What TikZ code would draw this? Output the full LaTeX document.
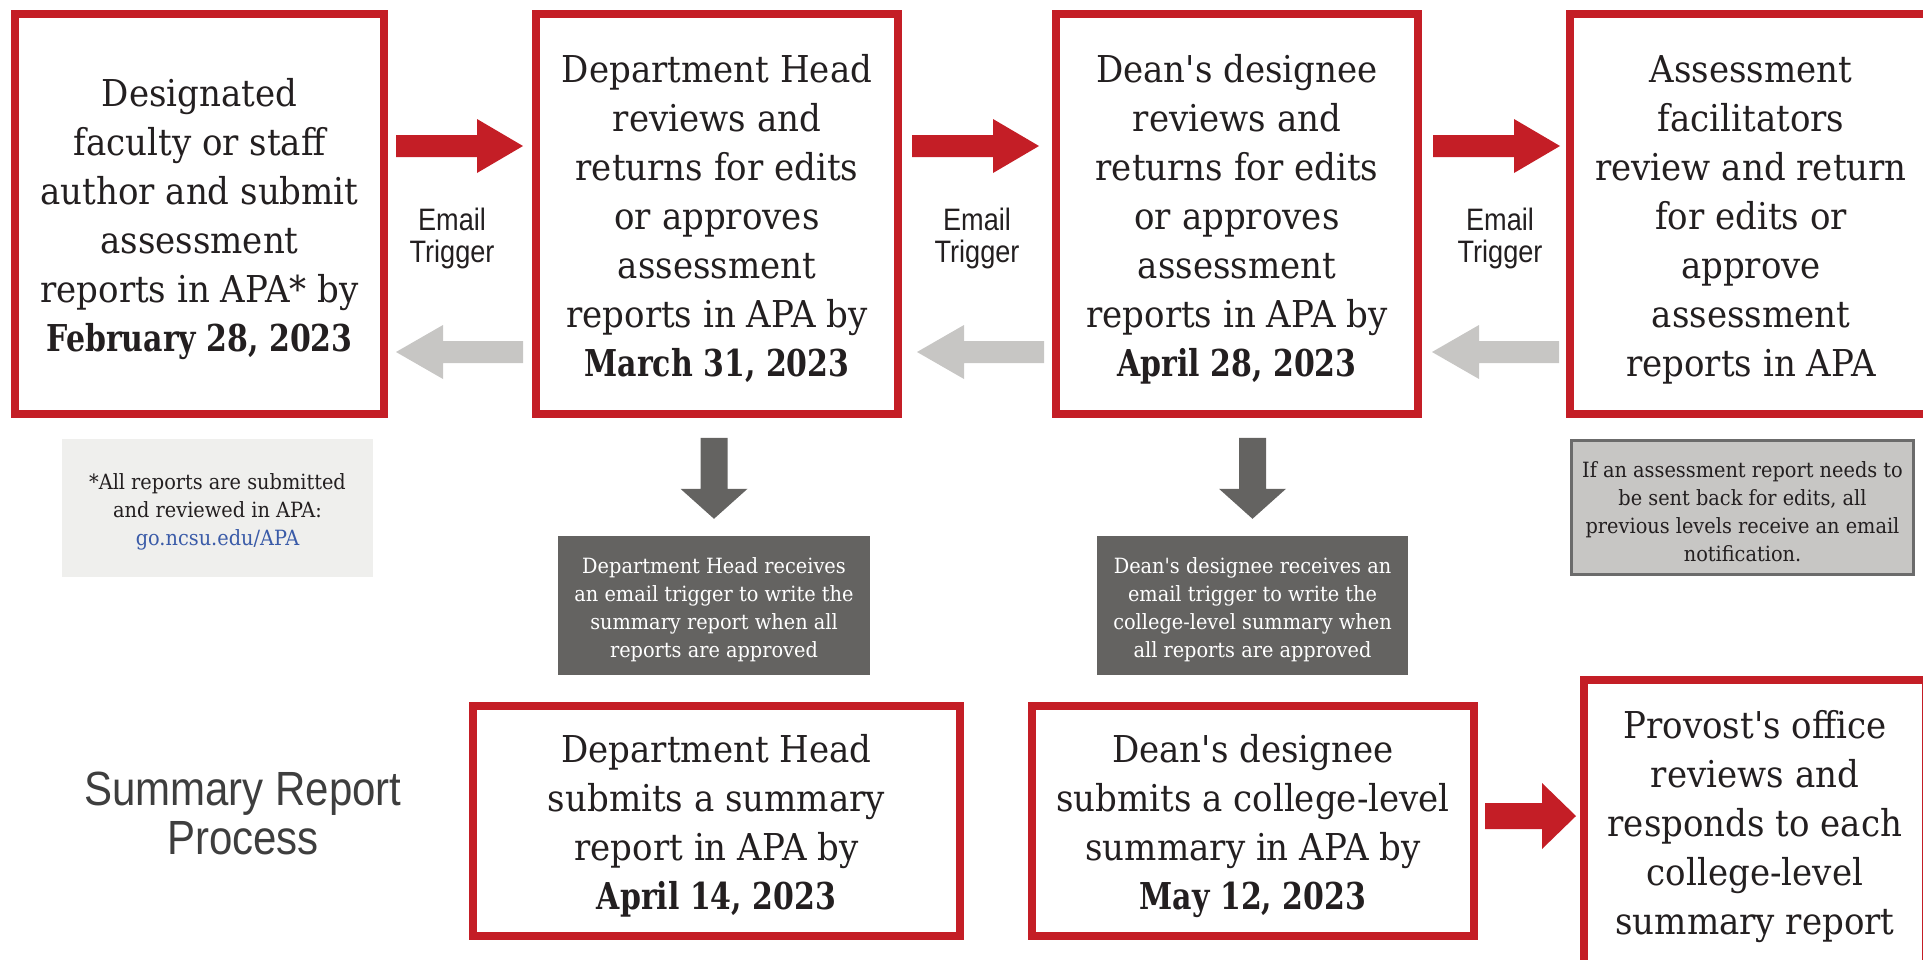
\documentclass[tikz,border=0pt]{standalone}
\usepackage{fontspec}
\setmainfont{DejaVu Serif}[Ligatures=TeXOff, UprightFeatures={FakeStretch=0.92}, BoldFeatures={FakeStretch=0.81}]
\newfontfamily\condfont{Liberation Sans}[FakeStretch=0.875]
\usetikzlibrary{calc}
\definecolor{ncred}{RGB}{196,30,38}
\definecolor{txt}{RGB}{35,31,32}
\definecolor{lgarrow}{RGB}{199,198,196}
\definecolor{dgray}{RGB}{100,99,97}
\definecolor{notebg}{RGB}{239,239,237}
\definecolor{notegray}{RGB}{199,198,196}
\definecolor{noteline}{RGB}{107,107,107}
\definecolor{link}{RGB}{58,91,168}
\definecolor{sumtxt}{RGB}{62,62,62}
\newcommand\bigstrut{\rule{0pt}{38pt}}
\newcommand\smallstrut{\rule{0pt}{24pt}}
% right block arrow: #1 tail centre, #2 length, #3 shaft half, #4 head half, #5 head length, #6 colour
\newcommand\rblock[6]{\fill[#6] (#1) ++(0,-#3) -- ++({#2-#5},0) -- ++(0,{-(#4-#3)}) -- ++(#5,#4) -- ++(-#5,#4) -- ++(0,{-(#4-#3)}) -- ++({-(#2-#5)},0) -- cycle;}
% left block arrow: #1 tip
\newcommand\lblock[6]{\fill[#6] (#1) -- ++(#5,-#4) -- ++(0,{#4-#3}) -- ++({#2-#5},0) -- ++(0,{2*#3}) -- ++({-(#2-#5)},0) -- ++(0,{#4-#3}) -- cycle;}
% down block arrow: #1 top centre
\newcommand\dblock[1]{\fill[dgray] (#1) ++(-13.5,0) -- ++(27,0) -- ++(0,51) -- ++(20,0) -- ++(-33.5,30) -- ++(-33.5,-30) -- ++(20,0) -- cycle;}
\begin{document}
\begin{tikzpicture}[x=1pt,y=-1pt,
  redbox/.style={draw=ncred, line width=8pt, fill=white, inner sep=0pt, align=center, text=txt,
    font=\fontsize{37}{49}\selectfont},
  darkbox/.style={fill=dgray, inner sep=0pt, align=center, text=white,
    font=\fontsize{21}{28}\selectfont, minimum height=139pt},
  lightnote/.style={fill=notebg, inner sep=0pt, align=center, text=txt,
    font=\fontsize{21}{28}\selectfont},
  graynote/.style={fill=notegray, draw=noteline, line width=3pt, inner sep=0pt, align=center, text=txt,
    font=\fontsize{21}{28}\selectfont},
  trig/.style={align=center, text=txt, inner sep=0pt, font=\condfont\fontsize{31}{32}\selectfont},
  sumlabel/.style={align=center, text=sumtxt, inner sep=0pt, font=\condfont\fontsize{48}{49}\selectfont}
]
\useasboundingbox (0,0) rectangle (1923,959);
\clip (0,0) rectangle (1923,959);

% top row
\node[redbox, minimum width=369pt, minimum height=400pt] (b1) at (199.5,214)
  {\bigstrut Designated\\faculty or staff\\author and submit\\assessment\\reports in APA* by\\\textbf{February 28, 2023}};
\node[redbox, minimum width=362pt, minimum height=400pt] (b2) at (717,214)
  {\bigstrut Department Head\\reviews and\\returns for edits\\or approves\\assessment\\reports in APA by\\\textbf{March 31, 2023}};
\node[redbox, minimum width=362pt, minimum height=400pt] (b3) at (1237,214)
  {\bigstrut Dean's designee\\reviews and\\returns for edits\\or approves\\assessment\\reports in APA by\\\textbf{April 28, 2023}};
\node[redbox, minimum width=362pt, minimum height=400pt] (b4) at (1751,214)
  {\bigstrut Assessment\\facilitators\\review and return\\for edits or\\approve\\assessment\\reports in APA};

% email trigger labels
\node[trig] (t1) at (452,238) {Email\\Trigger};
\node[trig] (t2) at (977,238) {Email\\Trigger};
\node[trig] (t3) at (1500,238) {Email\\Trigger};

% notes
\node[lightnote, minimum width=311pt, minimum height=138pt] (n1) at (217.5,508)
  {\smallstrut*All reports are submitted\\and reviewed in APA:\\{\color{link}go.ncsu.edu/APA}};
\node[graynote, minimum width=342pt, minimum height=134pt] (n2) at (1742.5,507.5)
  {\smallstrut If an assessment report needs to\\be sent back for edits, all\\previous levels receive an email\\notification.};

% dark boxes
\node[darkbox, minimum width=312pt] (d1) at (714,605.5)
  {\smallstrut Department Head receives\\an email trigger to write the\\summary report when all\\reports are approved};
\node[darkbox, minimum width=311pt] (d2) at (1252.5,605.5)
  {\smallstrut Dean's designee receives an\\email trigger to write the\\college-level summary when\\all reports are approved};

% bottom row
\node[sumlabel] (sum) at (243,813) {Summary Report\\Process};
\node[redbox, minimum width=487pt, minimum height=230pt] (b5) at (716.5,821)
  {\bigstrut Department Head\\submits a summary\\report in APA by\\\textbf{April 14, 2023}};
\node[redbox, minimum width=442pt, minimum height=230pt] (b6) at (1253,821)
  {\bigstrut Dean's designee\\submits a college-level\\summary in APA by\\\textbf{May 12, 2023}};
\node[redbox, minimum width=342pt, minimum height=294pt] (b7) at (1755,827)
  {Provost's office\\reviews and\\responds to each\\college-level\\summary report};

% forward arrows
\coordinate (r1) at ($(b1.east |- 0,146)+(8,0)$);
\coordinate (r2) at ($(b2.east |- 0,146)+(10,0)$);
\coordinate (r3) at ($(b3.east |- 0,146)+(11,0)$);
\rblock{r1}{127}{11}{27}{46}{ncred}
\rblock{r2}{127}{11}{27}{46}{ncred}
\rblock{r3}{127}{11}{27}{46}{ncred}
% return arrows
\coordinate (g1) at ($(b1.east |- 0,352)+(8,0)$);
\coordinate (g2) at ($(b2.east |- 0,352)+(15,0)$);
\coordinate (g3) at ($(b3.east |- 0,352)+(10,0)$);
\lblock{g1}{127}{11}{27}{47}{lgarrow}
\lblock{g2}{127}{11}{27}{47}{lgarrow}
\lblock{g3}{127}{11}{27}{47}{lgarrow}
% down arrows
\coordinate (v1) at ($(d1.north)+(0,-98)$);
\coordinate (v2) at ($(d2.north)+(0,-98)$);
\dblock{v1}
\dblock{v2}
% bottom arrow
\coordinate (r4) at ($(b6.east |- 0,816)+(7,0)$);
\rblock{r4}{91}{13}{33}{34}{ncred}
\end{tikzpicture}
\end{document}
